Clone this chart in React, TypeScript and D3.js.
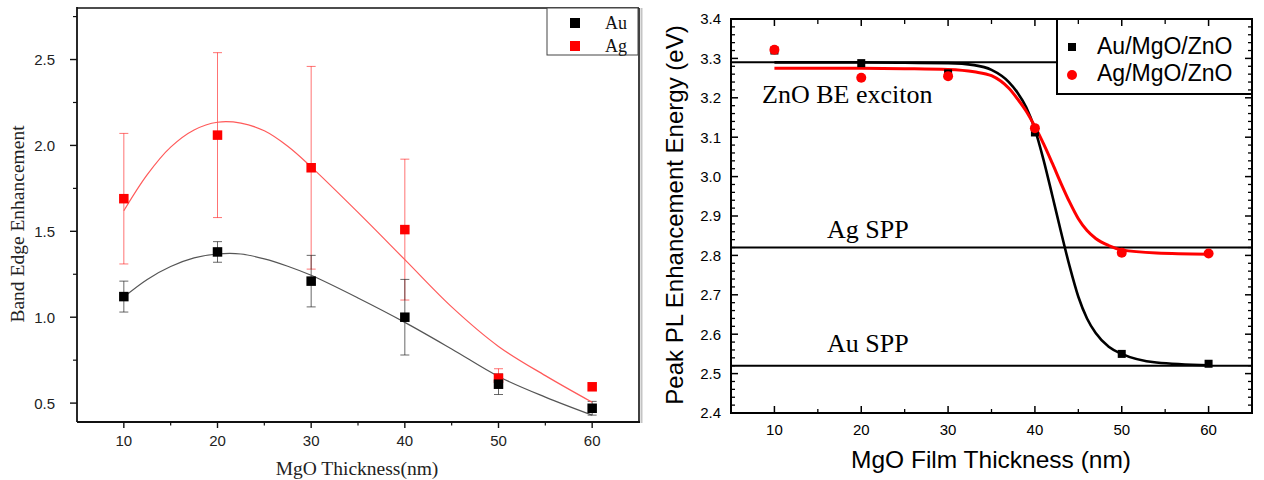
import React from "react";
import * as d3 from "d3";

// ---- Left panel: band edge enhancement vs MgO thickness ----
const thicknessNm = [10, 20, 30, 40, 50, 60];
const auBandEdge = [1.12, 1.38, 1.21, 1.0, 0.61, 0.47];
const auBandEdgeErr = [0.09, 0.06, 0.15, 0.22, 0.06, 0.04];
const agBandEdge = [1.69, 2.06, 1.87, 1.51, 0.645, 0.595];
const agBandEdgeErr = [0.38, 0.48, 0.59, 0.41, 0.055, 0];

// fitted curves (sampled)
const bandFitX = [10, 12.5, 15, 17.5, 20, 22.5, 25, 27.5, 30, 35, 40, 45, 50, 55, 60];
const auBandFit = [1.118, 1.22, 1.295, 1.345, 1.368, 1.368, 1.34, 1.297, 1.244, 1.112, 0.97, 0.815, 0.655, 0.535, 0.43];
const agBandFit = [1.62, 1.83, 1.99, 2.09, 2.135, 2.13, 2.085, 1.995, 1.875, 1.61, 1.335, 1.06, 0.83, 0.66, 0.505];

const bandYTicks = [0.5, 1.0, 1.5, 2.0, 2.5];
const bandYMinor = [0.75, 1.25, 1.75, 2.25, 2.75];
const thicknessTicks = [10, 20, 30, 40, 50, 60];
const thicknessMinor = [15, 25, 35, 45, 55];
const bandLegend = ["Au", "Ag"];

// ---- Right panel: peak PL enhancement energy vs MgO film thickness ----
const auPeakEnergy = [3.32, 3.288, 3.262, 3.112, 2.55, 2.525];
const agPeakEnergy = [3.322, 3.251, 3.255, 3.123, 2.807, 2.805];

const peakFitX = [10, 20, 25, 30, 33, 35, 37, 38, 39, 40, 41, 42, 43, 44, 45, 46, 47, 48.5, 50, 54, 60];
const auPeakFit = [3.29, 3.29, 3.289, 3.288, 3.283, 3.271, 3.24, 3.213, 3.176, 3.12, 3.042, 2.952, 2.86, 2.772, 2.695, 2.64, 2.603, 2.568, 2.55, 2.528, 2.521];
const agPeakFit = [3.275, 3.275, 3.274, 3.272, 3.266, 3.256, 3.224, 3.197, 3.166, 3.127, 3.083, 3.034, 2.983, 2.935, 2.893, 2.863, 2.843, 2.825, 2.814, 2.806, 2.803];

const referenceLabels = ["ZnO BE exciton", "Ag SPP", "Au SPP"];
const referenceEnergies = [3.29, 2.82, 2.52];

const energyTicks = [2.4, 2.5, 2.6, 2.7, 2.8, 2.9, 3.0, 3.1, 3.2, 3.3, 3.4];
const peakLegend = ["Au/MgO/ZnO", "Ag/MgO/ZnO"];

const SANS = "'Liberation Sans', Arial, Helvetica, sans-serif";
const SERIF = "'Liberation Serif', 'Times New Roman', serif";

function LeftPanel() {
  const x = d3.scaleLinear().domain([5, 65]).range([77, 639]);
  const y = d3.scaleLinear().domain([0.39, 2.8]).range([422, 8]);
  const [x0, x1] = x.range();
  const [yb, yt] = y.range();

  const line = d3
    .line<number>()
    .x((_, i) => x(bandFitX[i]))
    .y((d) => y(d))
    .curve(d3.curveCatmullRom.alpha(0.5));

  const errColorAg = "rgba(255,0,0,0.55)";
  const errColorAu = "rgba(40,40,40,0.7)";
  const sq = 9.5;
  const cap = 4.5;

  const errBars = (vals: number[], errs: number[], color: string) =>
    thicknessNm.map((t, i) =>
      errs[i] > 0 ? (
        <g key={i} stroke={color} strokeWidth={1}>
          <line x1={x(t)} x2={x(t)} y1={y(vals[i] + errs[i])} y2={y(vals[i] - errs[i])} />
          <line x1={x(t) - cap} x2={x(t) + cap} y1={y(vals[i] + errs[i])} y2={y(vals[i] + errs[i])} />
          <line x1={x(t) - cap} x2={x(t) + cap} y1={y(vals[i] - errs[i])} y2={y(vals[i] - errs[i])} />
        </g>
      ) : null
    );

  return (
    <g>
      {/* frame */}
      <line x1={x1} x2={x1} y1={yt} y2={yb} stroke="#111" strokeWidth={1.6} />
      <line x1={x0} x2={x1} y1={yt} y2={yt} stroke="#111" strokeWidth={1.6} />
      <line x1={x0} x2={x0} y1={yt - 1} y2={yb} stroke="#111" strokeWidth={1.8} />
      <line x1={x0} x2={x1 + 1} y1={yb} y2={yb} stroke="#111" strokeWidth={1.8} />

      {/* y ticks */}
      {bandYTicks.map((v) => (
        <g key={"y" + v}>
          <line x1={x0 - 7} x2={x0} y1={y(v)} y2={y(v)} stroke="#111" strokeWidth={1.4} />
          <text x={x0 - 22} y={y(v)} dy="0.36em" textAnchor="end" fontFamily={SANS} fontSize={15} fill="#222">
            {v.toFixed(1)}
          </text>
        </g>
      ))}
      {bandYMinor.map((v) => (
        <line key={"ym" + v} x1={x0 - 4} x2={x0} y1={y(v)} y2={y(v)} stroke="#111" strokeWidth={1.2} />
      ))}

      {/* x ticks */}
      {thicknessTicks.map((t) => (
        <g key={"x" + t}>
          <line x1={x(t)} x2={x(t)} y1={yb} y2={yb + 6} stroke="#111" strokeWidth={1.4} />
          <text x={x(t)} y={446} textAnchor="middle" fontFamily={SANS} fontSize={15} fill="#222">
            {t}
          </text>
        </g>
      ))}
      {thicknessMinor.map((t) => (
        <line key={"xm" + t} x1={x(t)} x2={x(t)} y1={yb} y2={yb + 3.5} stroke="#111" strokeWidth={1.2} />
      ))}

      {/* axis titles */}
      <text x={357} y={475} textAnchor="middle" fontFamily={SERIF} fontSize={19.5} fill="#222">
        MgO Thickness(nm)
      </text>
      <text
        transform={`translate(24, 224) rotate(-90)`}
        textAnchor="middle"
        fontFamily={SERIF}
        fontSize={19.5}
        fill="#222"
      >
        Band Edge Enhancement
      </text>

      {/* error bars */}
      {errBars(agBandEdge, agBandEdgeErr, errColorAg)}
      {errBars(auBandEdge, auBandEdgeErr, errColorAu)}

      {/* fitted curves */}
      <path d={line(agBandFit) || ""} fill="none" stroke="#ff5a5a" strokeWidth={1.2} />
      <path d={line(auBandFit) || ""} fill="none" stroke="#555" strokeWidth={1.2} />

      {/* markers */}
      {thicknessNm.map((t, i) => (
        <rect key={"ag" + t} x={x(t) - sq / 2} y={y(agBandEdge[i]) - sq / 2} width={sq} height={sq} fill="#ff0000" />
      ))}
      {thicknessNm.map((t, i) => (
        <rect key={"au" + t} x={x(t) - sq / 2} y={y(auBandEdge[i]) - sq / 2} width={sq} height={sq} fill="#000" />
      ))}

      {/* legend */}
      <rect x={547} y={8} width={91} height={47} fill="#fff" stroke="#444" strokeWidth={1} />
      {bandLegend.map((name, i) => (
        <g key={name}>
          <rect x={575 - 5} y={23 + i * 23 - 5} width={10} height={10} fill={i === 0 ? "#000" : "#ff0000"} />
          <text x={605} y={28.5 + i * 23.5} fontFamily={SERIF} fontSize={18} fill="#111">
            {name}
          </text>
        </g>
      ))}
    </g>
  );
}

function RightPanel() {
  const x = d3.scaleLinear().domain([5, 65]).range([731, 1252]);
  const y = d3.scaleLinear().domain([2.4, 3.4]).range([413, 19]);
  const [x0, x1] = x.range();
  const [yb, yt] = y.range();

  const line = d3
    .line<number>()
    .x((_, i) => x(peakFitX[i]))
    .y((d) => y(d))
    .curve(d3.curveMonotoneX);

  const minorY = d3.range(2.4, 3.4001, 0.02).filter((v) => Math.abs(v * 10 - Math.round(v * 10)) > 0.01);
  const majorLen = 7;
  const minorLen = 4;
  const sq = 8;

  const labelPos = [
    { x: 762, y: 103 },
    { x: 827, y: 238 },
    { x: 827, y: 352 },
  ];

  return (
    <g>
      {/* reference energy levels */}
      {referenceEnergies.map((e, i) => (
        <line key={"ref" + i} x1={x0} x2={x1} y1={y(e)} y2={y(e)} stroke="#000" strokeWidth={2} />
      ))}
      {referenceLabels.map((lab, i) => (
        <text key={lab} x={labelPos[i].x} y={labelPos[i].y} fontFamily={SERIF} fontSize={26} fill="#000">
          {lab}
        </text>
      ))}

      {/* fitted curves */}
      <path d={line(auPeakFit) || ""} fill="none" stroke="#000" strokeWidth={2.6} />
      <path d={line(agPeakFit) || ""} fill="none" stroke="#ff0000" strokeWidth={3} />

      {/* markers */}
      {thicknessNm.map((t, i) => (
        <rect key={"au" + t} x={x(t) - sq / 2} y={y(auPeakEnergy[i]) - sq / 2} width={sq} height={sq} fill="#000" />
      ))}
      {thicknessNm.map((t, i) => (
        <circle key={"ag" + t} cx={x(t)} cy={y(agPeakEnergy[i])} r={5} fill="#ff0000" />
      ))}

      {/* legend */}
      <rect x={1057} y={yt} width={x1 - 1057} height={94 - yt} fill="#fff" stroke="#000" strokeWidth={2} />
      {peakLegend.map((name, i) => (
        <g key={name}>
          {i === 0 ? (
            <rect x={1072 - 4} y={47 - 4} width={8} height={8} fill="#000" />
          ) : (
            <circle cx={1072} cy={75} r={5} fill="#ff0000" />
          )}
          <text x={1097} y={53.5 + i * 27} fontFamily={SANS} fontSize={23} fill="#000">
            {name}
          </text>
        </g>
      ))}

      {/* frame */}
      <rect x={x0} y={yt} width={x1 - x0} height={yb - yt} fill="none" stroke="#000" strokeWidth={2} />

      {/* y ticks, inward on both sides */}
      {energyTicks.map((v) => (
        <g key={"y" + v}>
          <line x1={x0} x2={x0 + majorLen} y1={y(v)} y2={y(v)} stroke="#000" strokeWidth={1.5} />
          <line x1={x1} x2={x1 - majorLen} y1={y(v)} y2={y(v)} stroke="#000" strokeWidth={1.5} />
          <text x={721} y={y(v)} dy="0.36em" textAnchor="end" fontFamily={SANS} fontSize={15} fill="#000">
            {v.toFixed(1)}
          </text>
        </g>
      ))}
      {minorY.map((v, i) => (
        <g key={"ym" + i}>
          <line x1={x0} x2={x0 + minorLen} y1={y(v)} y2={y(v)} stroke="#000" strokeWidth={1.3} />
          <line x1={x1} x2={x1 - minorLen} y1={y(v)} y2={y(v)} stroke="#000" strokeWidth={1.3} />
        </g>
      ))}

      {/* x ticks, inward on top and bottom */}
      {thicknessTicks.map((t) => (
        <g key={"x" + t}>
          <line x1={x(t)} x2={x(t)} y1={yb} y2={yb - majorLen} stroke="#000" strokeWidth={1.5} />
          <line x1={x(t)} x2={x(t)} y1={yt} y2={yt + majorLen} stroke="#000" strokeWidth={1.5} />
          <text x={x(t)} y={434.5} textAnchor="middle" fontFamily={SANS} fontSize={15} fill="#000">
            {t}
          </text>
        </g>
      ))}
      {thicknessMinor.map((t) => (
        <g key={"xm" + t}>
          <line x1={x(t)} x2={x(t)} y1={yb} y2={yb - minorLen} stroke="#000" strokeWidth={1.3} />
          <line x1={x(t)} x2={x(t)} y1={yt} y2={yt + minorLen + 1} stroke="#000" strokeWidth={1.3} />
        </g>
      ))}

      {/* axis titles */}
      <text x={991} y={468} textAnchor="middle" fontFamily={SANS} fontSize={24.5} fill="#000">
        MgO Film Thickness (nm)
      </text>
      <text
        transform={`translate(683, 215) rotate(-90)`}
        textAnchor="middle"
        fontFamily={SANS}
        fontSize={24}
        fill="#000"
      >
        Peak PL Enhancement Energy (eV)
      </text>
    </g>
  );
}

export default function App() {
  return (
    <svg
      width={1264}
      height={480}
      viewBox="0 0 1264 480"
      style={{ position: "absolute", left: 0, top: 0, background: "#fff" }}
    >
      <rect width={1264} height={480} fill="#fff" />
      <LeftPanel />
      {/* panel separator */}
      <line x1={641.5} x2={641.5} y1={8} y2={423} stroke="#c4c4c4" strokeWidth={2} />
      <RightPanel />
    </svg>
  );
}
